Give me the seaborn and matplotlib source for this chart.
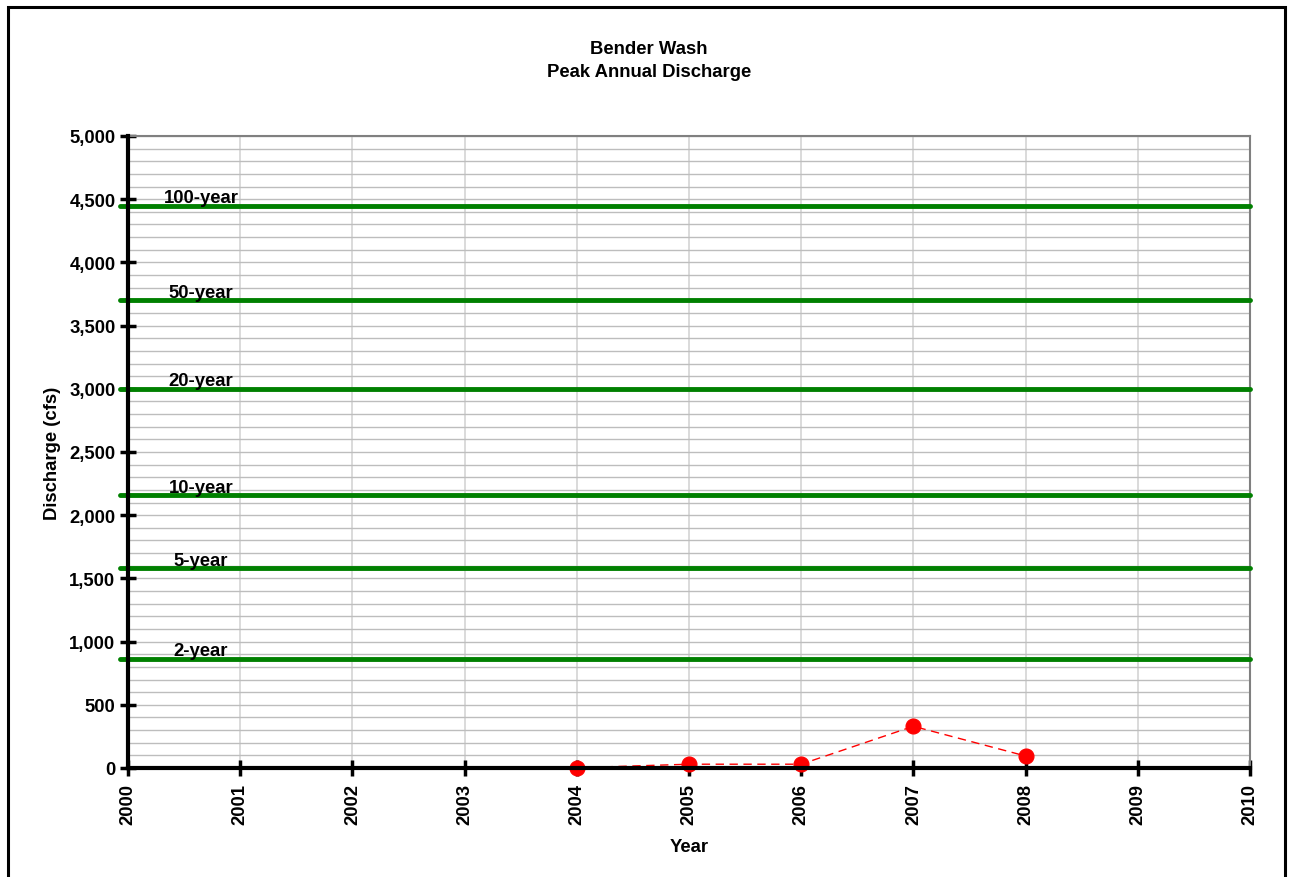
#!/usr/bin/env python3
"""
Bender Wash - peak annual discharge vs. return-period flows.
"""

import pandas as pd
import matplotlib
matplotlib.use("Agg")
import matplotlib.pyplot as plt
from matplotlib.patches import Rectangle
from matplotlib.ticker import MultipleLocator, FuncFormatter
import seaborn as sns

years = [2004, 2005, 2006, 2007, 2008]
peak_cfs = [2, 30, 30, 330, 95]

return_labels = ["100-year", "50-year", "20-year", "10-year", "5-year", "2-year"]
return_cfs = [4450, 3700, 3000, 2160, 1580, 865]

x_ticks = list(range(2000, 2011))

sns.set_theme(style="white")
plt.rcParams["font.family"] = ["Liberation Sans", "DejaVu Sans"]
plt.rcParams["font.weight"] = "bold"
plt.rcParams["text.color"] = "black"
plt.rcParams["axes.labelcolor"] = "black"
plt.rcParams["xtick.color"] = "black"
plt.rcParams["ytick.color"] = "black"

FS = 13.3

fig = plt.figure(figsize=(12.93, 8.78), dpi=100)
ax = fig.add_axes([128 / 1293, 1 - 769 / 878, (1250 - 128) / 1293, (769 - 137) / 878])

# outer chart border (bottom edge falls outside the image)
fig.patches.append(Rectangle((8 / 1293, -0.01), (1285 - 8) / 1293, 1 - 8 / 878 + 0.01,
                             transform=fig.transFigure, fill=False,
                             edgecolor="black", linewidth=2.2, zorder=0))

ax.set_xlim(2000, 2010)
ax.set_ylim(0, 5000)

# grid
ax.yaxis.set_minor_locator(MultipleLocator(100))
ax.yaxis.set_major_locator(MultipleLocator(500))
ax.set_xticks(x_ticks)
ax.grid(True, which="major", axis="x", color="#d4d4d4", linewidth=1.2)
ax.grid(True, which="both", axis="y", color="#bdbdbd", linewidth=1.0)
ax.set_axisbelow(True)

# return-period flows
for lab, q in zip(return_labels, return_cfs):
    ax.axhline(q, xmin=-0.007, xmax=1.0, color="#008000", linewidth=3.5,
               clip_on=False, zorder=3)
    ax.text(2000.65, q - 5, lab, ha="center", va="bottom",
            fontsize=FS, fontweight="bold", color="black", zorder=4)

# observed peaks
df = pd.DataFrame({"Year": years, "Discharge": peak_cfs})
sns.lineplot(data=df, x="Year", y="Discharge", ax=ax, color="red",
             linestyle=(0, (6, 4)), linewidth=1.0, zorder=5)
sns.scatterplot(data=df, x="Year", y="Discharge", ax=ax, color="red",
                s=115, edgecolor="red", zorder=6, clip_on=False)

# spines
for side in ["top", "right"]:
    ax.spines[side].set_visible(True)
    ax.spines[side].set_color("#808080")
    ax.spines[side].set_linewidth(1.5)
for side in ["left", "bottom"]:
    ax.spines[side].set_color("black")
    ax.spines[side].set_linewidth(3)
    ax.spines[side].set_zorder(7)

ax.tick_params(axis="both", which="major", direction="inout", length=12,
               width=2.5, color="black", labelsize=FS, left=True, bottom=True)
ax.tick_params(axis="y", which="major", pad=3)
ax.tick_params(axis="x", which="major", pad=5)
ax.tick_params(axis="y", which="minor", left=False)
ax.yaxis.set_major_formatter(FuncFormatter(lambda v, p: f"{int(v):,}"))
for lbl in ax.get_xticklabels():
    lbl.set_rotation(90)
    lbl.set_fontweight("bold")
for lbl in ax.get_yticklabels():
    lbl.set_fontweight("bold")

ax.set_xlabel("Year", fontsize=FS, fontweight="bold", labelpad=10)
ax.set_ylabel("Discharge (cfs)", fontsize=FS, fontweight="bold", labelpad=6)

fig.text(649 / 1293, 1 - 61 / 878, "Bender Wash\nPeak Annual Discharge",
         ha="center", va="center", fontsize=FS, fontweight="bold",
         linespacing=1.5)

fig.savefig("out.png", dpi=100, facecolor="white")
